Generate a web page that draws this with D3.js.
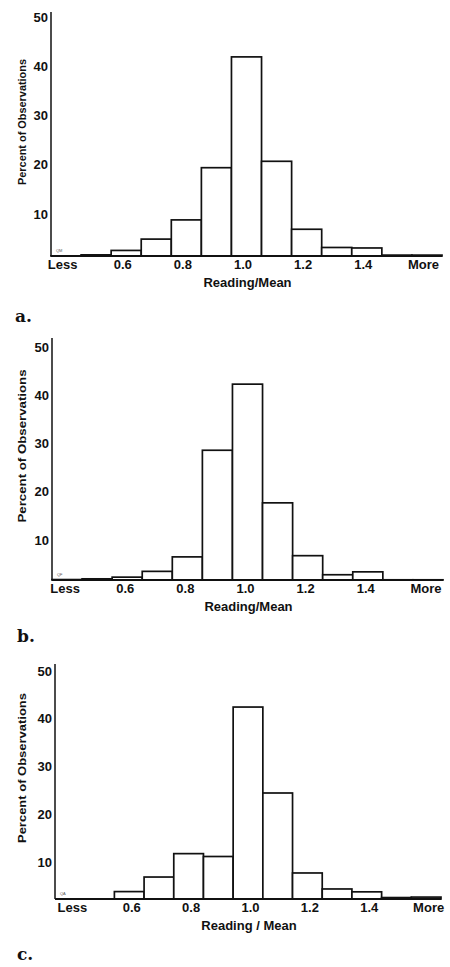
<!DOCTYPE html>
<html>
<head>
<meta charset="utf-8">
<script src="https://cdn.jsdelivr.net/npm/d3@7"></script>
<style>
  body { margin: 0; background: #fff; }
  svg { display: block; }
  .tick text { font-family: "Liberation Sans", Arial, sans-serif; font-weight: bold; font-size: 13px; fill: #111; }
  .axis-title { font-family: "Liberation Sans", Arial, sans-serif; font-weight: bold; fill: #111; }
  .panel-letter { font-family: "DejaVu Serif", serif; font-weight: bold; font-size: 17px; fill: #111; }
  .tag { font-family: "Liberation Sans", Arial, sans-serif; font-size: 4px; fill: #555; }
</style>
</head>
<body>
<svg id="chart" width="450" height="967"></svg>
<script>
// bins of Reading/Mean
const bins = ['Less', '0.5', '0.6', '0.7', '0.8', '0.9', '1.0', '1.1', '1.2', '1.3', '1.4', '1.5', 'More'];
const binLabels = ['Less', '0.6', '0.8', '1.0', '1.2', '1.4', 'More'];
const yTicks = [10, 20, 30, 40, 50];

// percent of observations, read against the tick labels
const valuesA = [1.5, 1.7, 2.6, 4.9, 8.8, 19.4, 41.9, 20.7, 6.9, 3.2, 3.1, 1.65, 1.65];
const valuesB = [1.8, 1.95, 2.3, 3.5, 6.5, 28.6, 42.3, 17.7, 6.75, 2.8, 3.4, 1.75, 1.75];
const valuesC = [2.25, 2.25, 3.8, 6.85, 11.75, 11.15, 42.45, 24.45, 7.7, 4.35, 3.75, 2.55, 2.65];

// value where each x axis sits
const axisFloor = [1.47, 1.71, 2.25];
const tags = ['QM', 'QF', 'QA'];
const xTitles = ['Reading/Mean', 'Reading/Mean', 'Reading / Mean'];
const letters = ['a.', 'b.', 'c.'];

const LAYOUT = [
  { x0: 51, x1: 442, base: 256, top50: 17, axisTop: 12, labelDx: -3.5, yTitleY: 122, yTitleLen: 126, letterY: 322, letterX: 15 },
  { x0: 52, x1: 443, base: 580, top50: 347, axisTop: 338, labelDx: -2, yTitleY: 446, yTitleLen: 153, letterY: 642, letterX: 17 },
  { x0: 55, x1: 441, base: 899, top50: 671, axisTop: 664, labelDx: 2.5, yTitleY: 768, yTitleLen: 150, letterY: 960, letterX: 17 }
];

const svg = d3.select('#chart');

[valuesA, valuesB, valuesC].forEach((values, i) => {
  drawPanel(values, i);
});

function drawPanel(values, i) {
  const L = LAYOUT[i];
  const g = svg.append('g').attr('class', 'panel');

  const scaleX = d3.scaleBand()
    .domain(bins)
    .range([L.x0, L.x1])
    .padding(0);

  const scaleY = d3.scaleLinear()
    .domain([axisFloor[i], 50])
    .range([L.base, L.top50]);

  // bars
  g.append('g')
    .selectAll('rect')
    .data(values)
    .enter()
    .append('rect')
    .attr('x', (d, j) => scaleX(bins[j]))
    .attr('width', scaleX.bandwidth())
    .attr('y', d => scaleY(d))
    .attr('height', d => scaleY(axisFloor[i]) - scaleY(d))
    .attr('fill', '#fff')
    .attr('stroke', '#111')
    .attr('stroke-width', 1.7);

  // y axis
  const axisY = d3.axisLeft(scaleY)
    .tickValues(yTicks)
    .tickSize(0)
    .tickPadding(3);

  g.append('g')
    .attr('class', 'axis axis-y')
    .attr('transform', 'translate(' + L.x0 + ',0)')
    .call(axisY)
    .call(a => a.select('.domain').remove());

  g.append('line')
    .attr('x1', L.x0)
    .attr('x2', L.x0)
    .attr('y1', L.axisTop)
    .attr('y2', L.base)
    .attr('stroke', '#111')
    .attr('stroke-width', 1.5);

  // x axis
  const axisX = d3.axisBottom(scaleX)
    .tickValues(binLabels)
    .tickSize(0)
    .tickPadding(3.5);

  g.append('g')
    .attr('class', 'axis axis-x')
    .attr('transform', 'translate(0,' + L.base + ')')
    .call(axisX)
    .call(a => a.select('.domain').remove())
    .selectAll('text')
    .attr('x', L.labelDx);

  g.append('line')
    .attr('x1', L.x0)
    .attr('x2', L.x1)
    .attr('y1', L.base)
    .attr('y2', L.base)
    .attr('stroke', '#111')
    .attr('stroke-width', 2.2);

  // titles
  g.append('text')
    .attr('class', 'axis-title')
    .attr('x', (L.x0 + L.x1) / 2 + 1)
    .attr('y', L.base + 30.5)
    .attr('text-anchor', 'middle')
    .attr('font-size', 13)
    .text(xTitles[i]);

  g.append('text')
    .attr('class', 'axis-title')
    .attr('transform', 'translate(26,' + L.yTitleY + ') rotate(-90)')
    .attr('text-anchor', 'middle')
    .attr('font-size', 11.5)
    .attr('textLength', L.yTitleLen)
    .attr('lengthAdjust', 'spacingAndGlyphs')
    .text('Percent of Observations');

  g.append('text')
    .attr('class', 'tag')
    .attr('x', L.x0 + 5)
    .attr('y', L.base - 4)
    .text(tags[i]);

  g.append('text')
    .attr('class', 'panel-letter')
    .attr('x', L.letterX)
    .attr('y', L.letterY)
    .text(letters[i]);
}
</script>
</body>
</html>
